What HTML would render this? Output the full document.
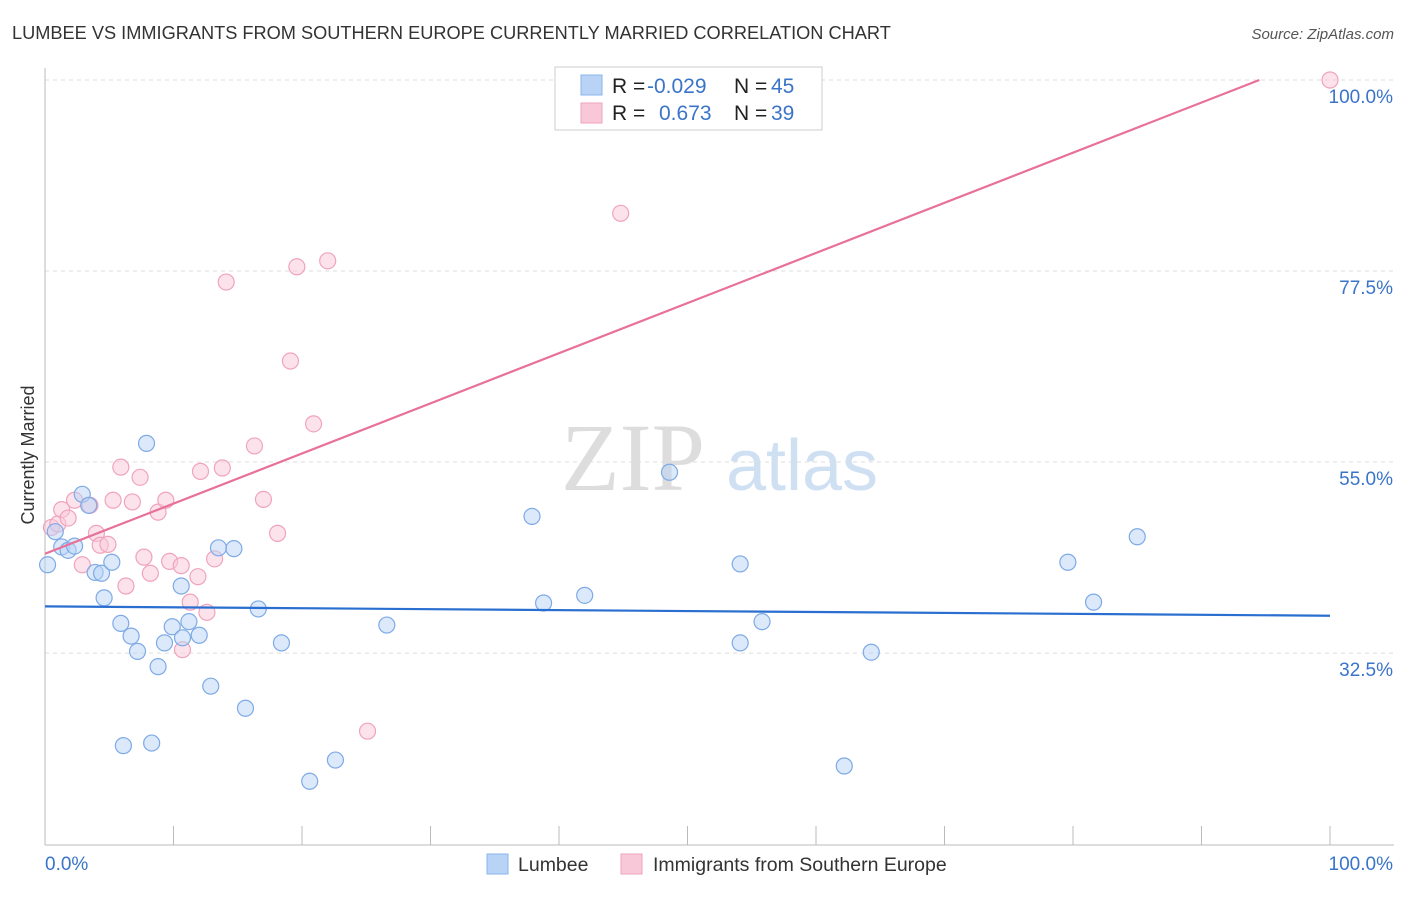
<!DOCTYPE html>
<html><head><meta charset="utf-8"><style>
body{margin:0;background:#fff;font-family:"Liberation Sans",sans-serif;}
</style></head><body>
<svg id="c" width="1406" height="892" xmlns="http://www.w3.org/2000/svg">
<text x="12" y="39" font-size="18.2" fill="#333">LUMBEE VS IMMIGRANTS FROM SOUTHERN EUROPE CURRENTLY MARRIED CORRELATION CHART</text>
<text x="1394" y="39" font-size="15" fill="#555" font-style="italic" text-anchor="end">Source: ZipAtlas.com</text>
<text x="633" y="490" font-size="96" fill="#ddd" font-family="Liberation Serif" text-anchor="middle">ZIP</text>
<text x="802" y="490" font-size="72" fill="#cfe0f3" text-anchor="middle">atlas</text>
<text x="34" y="455" font-size="18" fill="#333" text-anchor="middle" transform="rotate(-90 34 455)">Currently Married</text>
<g id="grid"></g><g id="marks"></g>
<rect x="555" y="67" width="267" height="63" fill="#fff" stroke="#ccc"/>
<rect x="581" y="75" width="21" height="20" fill="#b8d3f5" stroke="#8ab4ea"/>
<rect x="581" y="103" width="21" height="20" fill="#f9c8d8" stroke="#f0a3bd"/>
<text font-size="21" fill="#222"><tspan x="612" y="93">R = </tspan><tspan fill="#3a74c9" x="647">-0.029</tspan><tspan x="734">N = </tspan><tspan fill="#3a74c9" x="771">45</tspan></text>
<text font-size="21" fill="#222"><tspan x="612" y="120">R = </tspan><tspan fill="#3a74c9" x="659">0.673</tspan><tspan x="734">N = </tspan><tspan fill="#3a74c9" x="771">39</tspan></text>
<rect x="487" y="854" width="21" height="20" fill="#b8d3f5" stroke="#8ab4ea"/>
<text x="518" y="871" font-size="19.5" fill="#333">Lumbee</text>
<rect x="621" y="854" width="21" height="20" fill="#f9c8d8" stroke="#f0a3bd"/>
<text x="653" y="871" font-size="19.5" fill="#333">Immigrants from Southern Europe</text>
</svg>
<script>
const yTicks=[100,77.5,55,32.5];
const yTickLabels=["100.0%","77.5%","55.0%","32.5%"];
const xTickLabels=["0.0%","100.0%"];
const lumbeeX=[0.2,0.8,1.3,1.8,2.3,2.9,3.4,3.9,4.4,4.6,5.2,5.9,6.7,7.2,7.9,8.8,6.1,8.3,9.3,9.9,10.6,10.7,11.2,12.0,12.9,13.5,14.7,15.6,16.6,18.4,20.6,22.6,26.6,37.9,38.8,42.0,48.6,54.1,54.1,55.8,62.2,64.3,79.6,81.6,85.0];
const lumbeeY=[42.9,46.8,45.0,44.6,45.1,51.2,49.9,42.0,41.9,39.0,43.2,36.0,34.5,32.7,57.2,30.9,21.6,21.9,33.7,35.6,40.4,34.3,36.2,34.6,28.6,44.9,44.8,26.0,37.7,33.7,17.4,19.9,35.8,48.6,38.4,39.3,53.8,43.0,33.7,36.2,19.2,32.6,43.2,38.5,46.2];
const immX=[0.5,1.0,1.3,1.8,2.3,2.9,3.5,4.0,4.3,4.9,5.3,5.9,6.3,6.8,7.4,7.7,8.2,8.8,9.4,9.7,10.6,11.3,11.9,12.1,12.6,10.7,13.2,13.8,14.1,16.3,17.0,18.1,19.1,19.6,20.9,22.0,25.1,44.8,100];
const immY=[47.3,47.7,49.4,48.4,50.5,42.9,49.9,46.6,45.2,45.3,50.5,54.4,40.4,50.3,53.2,43.8,41.9,49.1,50.5,43.3,42.8,38.5,41.5,53.9,37.3,32.9,43.6,54.3,76.2,56.9,50.6,46.6,66.9,78.0,59.5,78.7,23.3,84.3,100];
const lumbeeTrend=[38.0,36.9];
const immTrend=[44.2,100.0];
const immTrendEndX=94.5;
const NS="http://www.w3.org/2000/svg";
const X=v=>45+v*12.85, Y=v=>80+(100-v)*8.49;
function mk(t,a,p){const e=document.createElementNS(NS,t);for(const k in a)e.setAttribute(k,a[k]);p.appendChild(e);return e;}
const g=document.getElementById('grid'), m=document.getElementById('marks');
yTicks.forEach((t,i)=>{
 const l=mk('line',{x1:45,x2:1394,y1:Y(t),y2:Y(t),stroke:'#ddd','stroke-dasharray':'4,4'},g);
 
 
 const tx=mk('text',{x:1393,y:Y(t)+23,'font-size':19,fill:'#3a74c9','text-anchor':'end'},g);
 tx.textContent=yTickLabels[i];
 
 
});
const ax=mk('line',{x1:45,x2:1394,y1:845,y2:845,stroke:'#bbb'},g);


const ay=mk('line',{x1:45,x2:45,y1:68,y2:845,stroke:'#bbb'},g);


for(let i=0;i<=10;i++){const t=mk('line',{x1:X(i*10),x2:X(i*10),y1:826,y2:845,stroke:'#bbb'},g);
 
 }
[[0,'start',45],[100,'end',1393]].forEach((d,i)=>{const t=mk('text',{x:d[2],y:870,'font-size':19,fill:'#3a74c9','text-anchor':d[1]},g);t.textContent=xTickLabels[i];
 
 });
immX.forEach((v,i)=>{const c=mk('circle',{cx:X(v),cy:Y(immY[i]),r:8,fill:'rgba(249,200,216,0.5)',stroke:'#f0a3bd','stroke-width':1.2},m);
 
 });
lumbeeX.forEach((v,i)=>{const c=mk('circle',{cx:X(v),cy:Y(lumbeeY[i]),r:8,fill:'rgba(184,211,245,0.5)',stroke:'#7eaae6','stroke-width':1.2},m);
 
 });
const t1=mk('line',{x1:X(0),y1:Y(lumbeeTrend[0]),x2:X(100),y2:Y(lumbeeTrend[1]),stroke:'#2a6fd0','stroke-width':2.2},m);


const t2=mk('line',{x1:X(0),y1:Y(immTrend[0]),x2:X(immTrendEndX),y2:Y(immTrend[1]),stroke:'#e8709a','stroke-width':2.2},m);


</script>
</body></html>
